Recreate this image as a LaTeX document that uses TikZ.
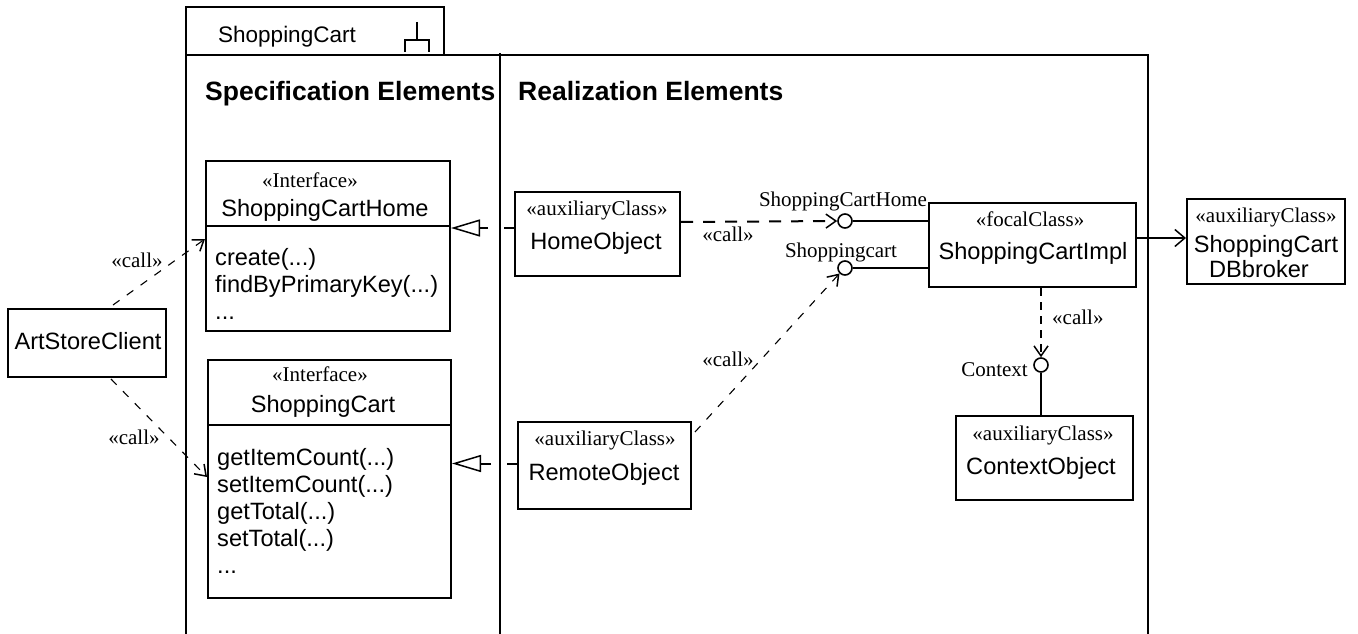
\documentclass[tikz,border=0pt]{standalone}
\usepackage{fontspec}
\setmainfont{Liberation Sans}
\newfontfamily\serifx{Liberation Serif}
\usetikzlibrary{arrows.meta}
\begin{document}
\begin{tikzpicture}[x=1pt,y=-1pt,
  frame/.style={line width=2pt},
  box/.style={draw, line width=2pt, inner sep=0pt, anchor=north west, fill=white},
  sans/.style={font=\fontsize{23.6}{28}\selectfont, inner sep=0pt, anchor=base},
  opl/.style={font=\fontsize{23.6}{28}\selectfont, inner sep=0pt, anchor=base west},
  ser/.style={font=\serifx\fontsize{21}{25}\selectfont, inner sep=0pt, anchor=base},
  head/.style={font=\bfseries\fontsize{26.5}{30}\selectfont, inner sep=0pt, anchor=base west},
  iface/.style={circle, draw, line width=1.6pt, minimum size=14pt, inner sep=0pt, fill=white},
  barb/.style={-{Straight Barb[length=10pt,width=14pt,line width=1.5pt]}},
  callthin/.style={barb, line width=1.1pt, dash pattern=on 8pt off 9pt},
  callthick/.style={barb, line width=2pt, dash pattern=on 12pt off 10pt},
  real/.style={-{Triangle[open,length=29pt,width=17pt,line width=1.5pt]}, line width=2pt, dash pattern=on 10pt off 16pt},
  assoc/.style={-{Straight Barb[length=10pt,width=17pt,line width=1.5pt]}, line width=2pt},
  link/.style={line width=2pt}
]
\path[use as bounding box] (0,0) rectangle (1358,634);

% package frame
\draw[frame] (186,7) rectangle (444,55);
\draw[line width=1.6pt] (417,22) -- (417,40);
\draw[line width=1.6pt] (405,52) -- (405,40) -- (429,40) -- (429,52);
\draw[frame] (186,55) -- (186,634);
\draw[frame] (186,55) -- (1148,55) -- (1148,634);
\draw[frame] (500,53) -- (500,634);
\node[sans, font=\fontsize{22.5}{27}\selectfont] (ttl) at (287,43) {ShoppingCart};

\node[head] (hspec) at (205,100) {Specification Elements};
\node[head] (hreal) at (518,100) {Realization Elements};

% boxes
\node[box, minimum width=158pt, minimum height=68pt] (asc) at (7,308) {};
\node[box, minimum width=244pt, minimum height=170pt] (home) at (205,160) {};
\node[box, minimum width=243pt, minimum height=238pt] (sc) at (207,359) {};
\node[box, minimum width=165pt, minimum height=84pt] (ho) at (514,191) {};
\node[box, minimum width=173pt, minimum height=87pt] (ro) at (517,421) {};
\node[box, minimum width=207pt, minimum height=84pt] (impl) at (928,202) {};
\node[box, minimum width=158pt, minimum height=85pt] (db) at (1186,198) {};
\node[box, minimum width=177pt, minimum height=84pt] (cobj) at (955,415) {};

\draw[link] (home.west |- 0,226) -- (home.east |- 0,226);
\draw[link] (sc.west |- 0,425) -- (sc.east |- 0,425);

% texts
\node[sans] (asct) at (88,349) {ArtStoreClient};
\node[ser] (hst) at (310,187) {«Interface»};
\node[sans] (hnm) at (325,216) {ShoppingCartHome};
\node[opl] (hop1) at (215,265) {create(...)};
\node[opl] (hop2) at (215,292) {findByPrimaryKey(...)};
\node[opl] (hop3) at (215,319) {...};
\node[ser] (sst) at (320,381) {«Interface»};
\node[sans] (snm) at (323,412) {ShoppingCart};
\node[opl] (sop1) at (217,465) {getItemCount(...)};
\node[opl] (sop2) at (217,492) {setItemCount(...)};
\node[opl] (sop3) at (217,519) {getTotal(...)};
\node[opl] (sop4) at (217,546) {setTotal(...)};
\node[opl] (sop5) at (217,573) {...};
\node[ser] (host) at (597,215) {«auxiliaryClass»};
\node[sans] (honm) at (596,249) {HomeObject};
\node[ser] (rost) at (605,445) {«auxiliaryClass»};
\node[sans] (ronm) at (604,480) {RemoteObject};
\node[ser] (imst) at (1030,226) {«focalClass»};
\node[sans] (imnm) at (1033,259) {ShoppingCartImpl};
\node[ser] (dbst) at (1266,222) {«auxiliaryClass»};
\node[sans] (dbn1) at (1266,252) {ShoppingCart};
\node[sans] (dbn2) at (1259,277) {DBbroker};
\node[ser] (cost) at (1043,440) {«auxiliaryClass»};
\node[sans] (conm) at (1041,474) {ContextObject};

% interfaces (lollipops)
\node[iface] (ich) at (845,221) {};
\node[iface] (isc) at (845,268) {};
\node[iface] (ictx) at (1041,365) {};
\node[ser] (lich) at (843,206) {ShoppingCartHome};
\node[ser] (lisc) at (841,257) {Shoppingcart};
\node[ser, anchor=base east] (lctx) at (1028,376) {Context};

\draw[link] (ich.east) -- (ich.east -| impl.west);
\draw[link] (isc.east) -- (isc.east -| impl.west);
\draw[link] (ictx.south) -- (ictx.south |- cobj.north);

% connectors
\draw[callthin] ([xshift=26pt,yshift=3pt]asc.north) -- ([yshift=7pt]home.west);
\node[ser] (c1) at (137,267) {«call»};
\draw[callthin] ([xshift=24pt,yshift=-1pt]asc.south) -- ([yshift=2pt]sc.west);
\node[ser] (c2) at (134,444) {«call»};

\draw[real] ([yshift=6pt]ho.west) -- ([yshift=6pt]ho.west -| home.east);
\draw[real] ([yshift=2pt]ro.west) -- ([yshift=2pt]ro.west -| sc.east);

\draw[callthick] ([yshift=12pt]ho.east) -- (ich.west);
\node[ser] (c3) at (728,241) {«call»};

\draw[callthin] ([xshift=3pt,yshift=-11pt]ro.north east) -- (isc.south west);
\node[ser] (c4) at (728,366) {«call»};

\draw[callthick, dash pattern=on 8pt off 6pt] (ictx.north |- impl.south) -- (ictx.north);
\node[ser, anchor=base west] (c5) at (1052,324) {«call»};

\draw[assoc] ([yshift=7pt]impl.east) -- ([yshift=7pt]impl.east -| db.west);
\end{tikzpicture}
\end{document}
